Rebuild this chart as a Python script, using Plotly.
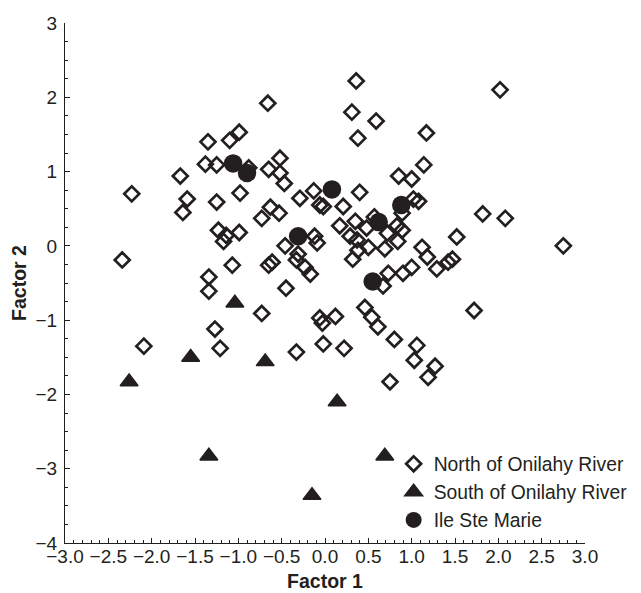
import plotly.graph_objects as go

# North of Onilahy River (open diamonds)
north_x = [-0.66, -1.35, -1.10, -0.99, -1.67, -1.38, -1.25, -0.88, -0.65, -0.52,
           -0.52, -0.47, -2.23, -1.59, -1.64, -1.25, -0.98, -0.73, -0.63, -0.53,
           -1.23, -1.14, -1.17, -0.99, -0.29, -0.13, -0.06, -0.46, -0.12, -0.09,
           -2.34, -1.07, -0.65, -0.61, -0.31, -0.33, -0.23, -0.17, -0.45, -1.34,
           -1.34, 0.36, 2.02, 0.31, 0.59, 0.38, 1.17, 1.14, 0.85, 1.00,
           0.40, -0.02, 0.21, 1.02, 1.08, 0.89, 1.82, 2.08, 0.17, 0.35,
           0.48, 0.57, 0.83, 0.89, 0.72, 0.29, 0.37, 0.50, 0.69, 0.84,
           1.52, 2.75, 0.32, 0.38, 1.12, 1.18, 1.47, 1.42, 1.29, 1.00,
           0.90, 0.73, 0.67, -0.73, -1.27, -0.06, -0.03, -2.09, -1.21, -0.33,
           -0.02, 0.12, 0.46, 0.54, 0.61, 1.72, 0.22, 0.80, 1.06, 1.03,
           1.27, 1.19, 0.75]
north_y = [1.92, 1.40, 1.42, 1.53, 0.94, 1.10, 1.09, 1.05, 1.03, 1.18,
           0.98, 0.84, 0.70, 0.63, 0.45, 0.59, 0.71, 0.37, 0.52, 0.44,
           0.21, 0.14, 0.06, 0.18, 0.64, 0.74, 0.55, 0.00, 0.13, 0.04,
           -0.19, -0.26, -0.26, -0.22, -0.11, -0.19, -0.29, -0.38, -0.57, -0.42,
           -0.61, 2.22, 2.10, 1.80, 1.68, 1.45, 1.52, 1.09, 0.94, 0.90,
           0.72, 0.53, 0.53, 0.63, 0.60, 0.44, 0.43, 0.37, 0.27, 0.33,
           0.24, 0.39, 0.27, 0.21, 0.17, 0.13, 0.08, -0.02, -0.04, 0.06,
           0.12, 0.00, -0.18, -0.06, -0.02, -0.15, -0.18, -0.22, -0.31, -0.29,
           -0.37, -0.37, -0.54, -0.91, -1.12, -0.97, -1.04, -1.35, -1.38, -1.43,
           -1.32, -0.95, -0.83, -0.96, -1.09, -0.87, -1.38, -1.26, -1.34, -1.54,
           -1.62, -1.77, -1.83]

# South of Onilahy River (filled triangles)
south_x = [-1.04, -1.55, -0.69, -2.26, -1.34, -0.15, 0.14, 0.69]
south_y = [-0.77, -1.50, -1.56, -1.83, -2.83, -3.36, -2.10, -2.83]

# Ile Ste Marie (filled circles)
ile_x = [-1.06, -0.90, 0.08, -0.31, 0.62, 0.88, 0.55]
ile_y = [1.11, 0.98, 0.76, 0.13, 0.32, 0.55, -0.48]

series_names = ["North of Onilahy River", "South of Onilahy River", "Ile Ste Marie"]

x_ticks = [-3.0, -2.5, -2.0, -1.5, -1.0, -0.5, 0.0, 0.5, 1.0, 1.5, 2.0, 2.5, 3.0]
y_ticks = [-4, -3, -2, -1, 0, 1, 2, 3]

INK = "#231f20"
FONT = "Liberation Sans, Arial, sans-serif"

fig = go.Figure()
fig.add_trace(go.Scatter(
    x=north_x, y=north_y, mode="markers", name=series_names[0],
    marker=dict(symbol="diamond-open", size=11.5, color=INK, line=dict(width=2.7, color=INK)),
))
fig.add_trace(go.Scatter(
    x=south_x, y=south_y, mode="markers", name=series_names[1],
    marker=dict(symbol="triangle-up", size=15.5, color=INK, line=dict(width=1.5, color=INK)),
))
fig.add_trace(go.Scatter(
    x=ile_x, y=ile_y, mode="markers", name=series_names[2],
    marker=dict(symbol="circle", size=18.5, color=INK, line=dict(width=0)),
))

fig.update_layout(
    width=641, height=593,
    margin=dict(l=57, r=64, t=15, b=58, autoexpand=False),
    plot_bgcolor="white", paper_bgcolor="white",
    font=dict(family=FONT, size=19, color=INK),
    showlegend=True,
    legend=dict(x=0.632, y=0.189, xanchor="left", yanchor="top",
                bgcolor="rgba(0,0,0,0)", font=dict(size=19.3, color=INK),
                tracegroupgap=0, itemwidth=30),
)
fig.update_xaxes(
    range=[-3, 3], tickvals=x_ticks, ticktext=[f"{v:.1f}".replace("-", "\u2212") for v in x_ticks],
    tickangle=0,
    showgrid=False, zeroline=False, showline=True, linecolor=INK, linewidth=1,
    ticks="inside", ticklen=5, tickwidth=1, tickcolor=INK,
    minor=dict(dtick=0.1, ticks="inside", ticklen=3, tickcolor=INK, tickwidth=1, showgrid=False),
    tickfont=dict(size=19, color=INK, family=FONT),
    ticklabelstandoff=-4,
    automargin=False,
    title=dict(text="<b>Factor 1</b>", font=dict(size=19.5, color=INK, family=FONT), standoff=8),
)
fig.update_yaxes(
    range=[-4, 3], tickvals=y_ticks, ticktext=[str(v).replace("-", "\u2212") for v in y_ticks],
    showgrid=False, zeroline=False, showline=True, linecolor=INK, linewidth=1,
    ticks="inside", ticklen=5, tickwidth=1, tickcolor=INK,
    minor=dict(dtick=0.25, ticks="inside", ticklen=3, tickcolor=INK, tickwidth=1, showgrid=False),
    tickfont=dict(size=19, color=INK, family=FONT),
    ticklabelstandoff=3,
    automargin=False,
    title=dict(text="<b>Factor 2</b>", font=dict(size=19.5, color=INK, family=FONT), standoff=5),
)

fig.write_html("out.html")
